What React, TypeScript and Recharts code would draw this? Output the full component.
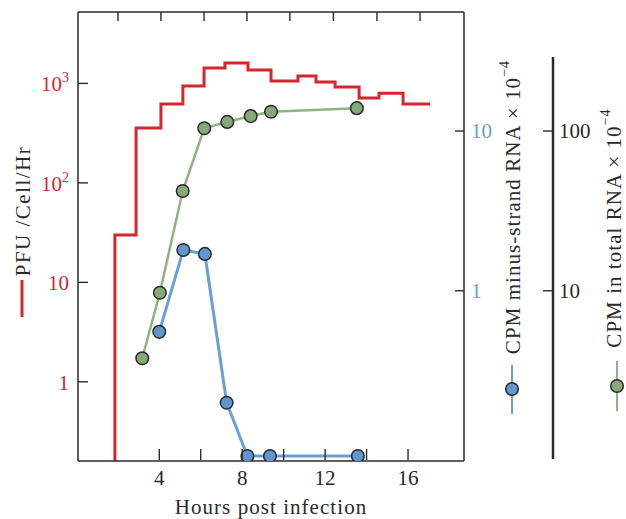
import { ComposedChart, Line, XAxis, YAxis } from "recharts";

// PFU per cell per hour (step curve), hours where each step starts
const stepHours = [1.86, 1.86, 2.88, 4.08, 5.14, 6.16, 7.17, 8.28, 9.39, 10.69, 11.56, 12.48, 13.64, 14.6, 15.76, 17.06];
const pfuPerCell = [0.01, 30, 357, 620, 940, 1430, 1606, 1367, 1060, 1190, 1035, 922, 715, 797, 620, 620];

// CPM minus-strand RNA x 10^-4
const minusHours = [4.0, 5.16, 6.2, 7.25, 8.25, 9.34, 13.58];
const minusStrand = [0.553, 1.8, 1.7, 0.199, 0.0923, 0.0923, 0.0923];

// CPM in total RNA x 10^-4
const totalHours = [3.18, 4.03, 5.13, 6.17, 7.28, 8.41, 9.39, 13.53];
const totalRna = [3.78, 9.72, 42.1, 104, 114, 124, 132, 139];

const bottomTicks = [4, 6, 8, 10, 12, 14, 16];
const bottomLabels = [4, 8, 12, 16];
const topTicks = [2.01, 4.08, 6.16, 8.23, 10.3, 12.4, 14.5, 16.58];
const pfuTicks = [1, 10, 100, 1000];
const pfuLabels = ["1", "10", "10|2", "10|3"];
const minusTicks = [1, 10];
const totalTicks = [10, 100];

const RED = "#d3262f";
const BLUE = "#6a9fd3";
const BLUE_DOT = "#5e98cf";
const GREEN = "#8db482";
const GREEN_DOT = "#86a97a";
const INK = "#2a2a2a";
const FONT = "Liberation Serif";
const FS = 21;
const SPACING = 1.05;

const stepData = stepHours.map((h, i) => ({ h, v: pfuPerCell[i] }));
const minusData = minusHours.map((h, i) => ({ h, v: minusStrand[i] }));
const totalData = totalHours.map((h, i) => ({ h, v: totalRna[i] }));

function BottomTick({ x, y, payload }: any) {
	const show = bottomLabels.includes(payload.value);
	return (
		<g>
			<line x1={x} x2={x} y1={y - 12} y2={y - 1} stroke={INK} strokeWidth={1.4} />
			{show && (
				<text x={x} y={y + 24} textAnchor="middle" fontSize={FS} fill={INK} fontFamily={FONT}>
					{payload.value}
				</text>
			)}
		</g>
	);
}

function TopTick({ x, y }: any) {
	return <line x1={x} x2={x} y1={y} y2={y + 9} stroke={INK} strokeWidth={1.4} />;
}

function PfuTick({ x, y, payload }: any) {
	const label = pfuLabels[pfuTicks.indexOf(payload.value)] || "";
	const [base, sup] = label.split("|");
	return (
		<g>
			<line x1={x} x2={x + 10} y1={y} y2={y} stroke={INK} strokeWidth={1.4} />
			<text x={x - 9} y={y + 8} textAnchor="end" fontSize={FS} fill={RED} fontFamily={FONT}>
				{base}
				{sup && (
					<tspan dy={-9} fontSize={14}>
						{sup}
					</tspan>
				)}
			</text>
		</g>
	);
}

function MinusTick({ x, y, payload }: any) {
	return (
		<g>
			<line x1={x - 9} x2={x} y1={y} y2={y} stroke={INK} strokeWidth={1.4} />
			<text x={x + 7} y={y + 7} fontSize={FS} fill={BLUE} fontFamily={FONT}>
				{payload.value}
			</text>
		</g>
	);
}

function TotalTick({ x, y, payload }: any) {
	return (
		<g>
			<line x1={x - 10} x2={x} y1={y} y2={y} stroke={INK} strokeWidth={1.4} />
			<text x={x + 6} y={y + 7} fontSize={FS} fill={INK} fontFamily={FONT}>
				{payload.value}
			</text>
		</g>
	);
}

function PfuTitle() {
	return (
		<g>
			<text
				x={23}
				y={211}
				transform="rotate(-90 23 211)"
				textAnchor="middle"
				dominantBaseline="central"
				fontSize={FS}
				fill={INK}
				fontFamily={FONT}
				letterSpacing={1.5}
			>
				PFU /Cell/Hr
			</text>
			<line x1={22} x2={22} y1={280} y2={317} stroke={RED} strokeWidth={3} />
		</g>
	);
}

function MinusTitle() {
	return (
		<g>
			<text
				x={513}
				y={207}
				transform="rotate(-90 513 207)"
				textAnchor="middle"
				dominantBaseline="central"
				fontSize={FS}
				fill={INK}
				fontFamily={FONT}
				letterSpacing={SPACING}
			>
				CPM minus-strand RNA × 10
				<tspan dy={-9} fontSize={14}>
					−4
				</tspan>
			</text>
			<line x1={512} x2={512} y1={365} y2={414} stroke={BLUE} strokeWidth={2} />
			<circle cx={512} cy={389} r={6.3} fill={BLUE_DOT} stroke={INK} strokeWidth={1.5} />
		</g>
	);
}

function TotalTitle() {
	return (
		<g>
			<line x1={553} x2={553} y1={57} y2={459} stroke={INK} strokeWidth={2.5} />
			<text
				x={614}
				y={228}
				transform="rotate(-90 614 228)"
				textAnchor="middle"
				dominantBaseline="central"
				fontSize={FS}
				fill={INK}
				fontFamily={FONT}
				letterSpacing={SPACING}
			>
				CPM in total RNA × 10
				<tspan dy={-9} fontSize={14}>
					−4
				</tspan>
			</text>
			<line x1={617} x2={617} y1={361} y2={411} stroke={GREEN} strokeWidth={2} />
			<circle cx={617} cy={386} r={6.3} fill={GREEN_DOT} stroke={INK} strokeWidth={1.5} />
		</g>
	);
}

function HoursTitle() {
	return (
		<text
			x={271}
			y={514}
			textAnchor="middle"
			fontSize={FS}
			fill={INK}
			fontFamily={FONT}
			letterSpacing={SPACING}
		>
			Hours post infection
		</text>
	);
}

export default function App() {
	return (
		<div style={{ position: "absolute", left: 0, top: 0 }}>
			<ComposedChart width={626} height={519} margin={{ top: 0, right: 0, bottom: 0, left: 0 }}>
				<XAxis
					xAxisId="bottom"
					dataKey="h"
					type="number"
					domain={[0.08, 18.7]}
					allowDataOverflow
					ticks={bottomTicks}
					tick={<BottomTick />}
					tickLine={false}
					tickSize={0}
					tickMargin={0}
					height={58}
					stroke={INK}
					strokeWidth={1.5}
					label={() => <HoursTitle />}
				/>
				<XAxis
					xAxisId="top"
					orientation="top"
					dataKey="h"
					type="number"
					domain={[0.08, 18.7]}
					allowDataOverflow
					ticks={topTicks}
					tick={<TopTick />}
					tickLine={false}
					tickSize={0}
					tickMargin={0}
					height={12}
					stroke={INK}
					strokeWidth={1.5}
				/>
				<YAxis
					yAxisId="pfu"
					type="number"
					scale="log"
					domain={[0.16, 5220]}
					allowDataOverflow
					ticks={pfuTicks}
					tick={<PfuTick />}
					tickLine={false}
					tickSize={0}
					tickMargin={0}
					width={78}
					stroke={INK}
					strokeWidth={1.5}
					label={() => <PfuTitle />}
				/>
				<YAxis
					yAxisId="minus"
					orientation="right"
					type="number"
					scale="log"
					domain={[0.0859, 55.6]}
					allowDataOverflow
					ticks={minusTicks}
					tick={<MinusTick />}
					tickLine={false}
					tickSize={0}
					tickMargin={0}
					width={89}
					stroke={INK}
					strokeWidth={1.5}
					label={() => <MinusTitle />}
				/>
				<YAxis
					yAxisId="total"
					orientation="right"
					type="number"
					scale="log"
					domain={[0.859, 556]}
					allowDataOverflow
					ticks={totalTicks}
					tick={<TotalTick />}
					tickLine={false}
					tickSize={0}
					tickMargin={0}
					axisLine={false}
					width={73}
					label={() => <TotalTitle />}
				/>
				<Line
					data={stepData}
					xAxisId="bottom"
					yAxisId="pfu"
					dataKey="v"
					type="stepAfter"
					stroke={RED}
					strokeWidth={3}
					dot={false}
					isAnimationActive={false}
				/>
				<Line
					data={totalData}
					xAxisId="bottom"
					yAxisId="total"
					dataKey="v"
					type="linear"
					stroke={GREEN}
					strokeWidth={2.5}
					dot={{ r: 6.3, fill: GREEN_DOT, stroke: INK, strokeWidth: 1.5 }}
					isAnimationActive={false}
				/>
				<Line
					data={minusData}
					xAxisId="bottom"
					yAxisId="minus"
					dataKey="v"
					type="linear"
					stroke={BLUE}
					strokeWidth={3}
					dot={{ r: 6.3, fill: BLUE_DOT, stroke: INK, strokeWidth: 1.5 }}
					isAnimationActive={false}
				/>
			</ComposedChart>
		</div>
	);
}
